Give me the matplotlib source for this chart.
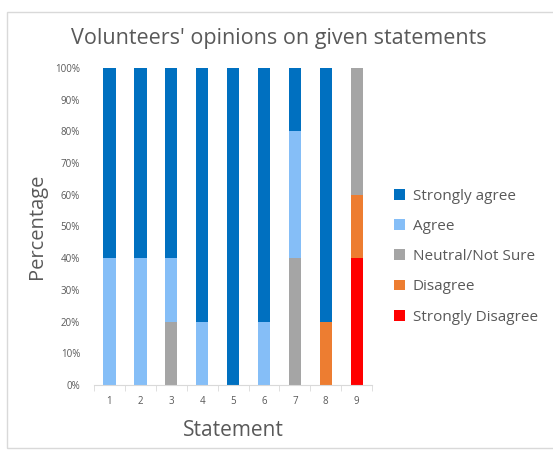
import matplotlib.pyplot as plt
from matplotlib.patches import Rectangle
import numpy as np

plt.rcParams['font.family'] = ['Open Sans', 'DejaVu Sans']

# Share of responses (%) for each statement
statements = ['1', '2', '3', '4', '5', '6', '7', '8', '9']
strongly_disagree = [0, 0, 0, 0, 0, 0, 0, 0, 40]
disagree = [0, 0, 0, 0, 0, 0, 0, 20, 20]
neutral = [0, 0, 20, 0, 0, 0, 40, 0, 40]
agree = [40, 40, 20, 20, 0, 20, 40, 0, 0]
strongly_agree = [60, 60, 60, 80, 100, 80, 20, 80, 0]

series = [
    ('Strongly Disagree', strongly_disagree, '#FF0000'),
    ('Disagree', disagree, '#ED7D31'),
    ('Neutral/Not Sure', neutral, '#A5A5A5'),
    ('Agree', agree, '#85BEF7'),
    ('Strongly agree', strongly_agree, '#0070C0'),
]

fig = plt.figure(figsize=(5.53, 4.5), dpi=100)
ax = fig.add_axes([0.170, 0.1444, 0.503, 0.7046])

# light chart-area border
fig.patches.append(Rectangle((0.0127, 0.004), 1.2, 0.969, transform=fig.transFigure,
                             fill=False, edgecolor='#D9D9D9', linewidth=1))

x = np.arange(1, len(statements) + 1)
bottom = np.zeros(len(statements))
handles = []
for name, vals, color in series:
    b = ax.bar(x, vals, width=0.4, bottom=bottom, color=color, label=name)
    handles.append(b)
    bottom += np.array(vals)

ax.set_xlim(0.5, 9.5)
ax.set_ylim(0, 100)
ax.set_yticks(np.arange(0, 101, 10))
ax.set_yticklabels([f'{v}%' for v in range(0, 101, 10)])
ax.set_xticks(x)
ax.set_xticklabels(statements)
ax.set_xticks(np.arange(0.5, 9.6, 1), minor=True)
ax.tick_params(axis='x', which='major', length=0, pad=8, labelsize=7, labelcolor='#595959')
ax.tick_params(axis='x', which='minor', length=4, color='#D9D9D9', direction='out')
ax.tick_params(axis='y', length=0, pad=10, labelsize=7, labelcolor='#595959')

for s in ['top', 'right', 'left']:
    ax.spines[s].set_visible(False)
ax.spines['bottom'].set_color('#D9D9D9')

ax.set_xlabel('Statement', fontsize=15, color='#595959', labelpad=9)
ax.set_ylabel('Percentage', fontsize=14.5, color='#595959', labelpad=6)
fig.text(0.504, 0.915, "Volunteers' opinions on given statements", ha='center',
         va='center', fontsize=15.5, color='#595959')

ax.legend(handles[::-1], [s[0] for s in series][::-1], loc='center left',
          bbox_to_anchor=(1.03, 0.405), frameon=False, fontsize=11,
          labelcolor='#595959', handlelength=0.7, handleheight=0.7,
          handletextpad=0.5, labelspacing=1.0)

fig.savefig('out.png', dpi=100)
